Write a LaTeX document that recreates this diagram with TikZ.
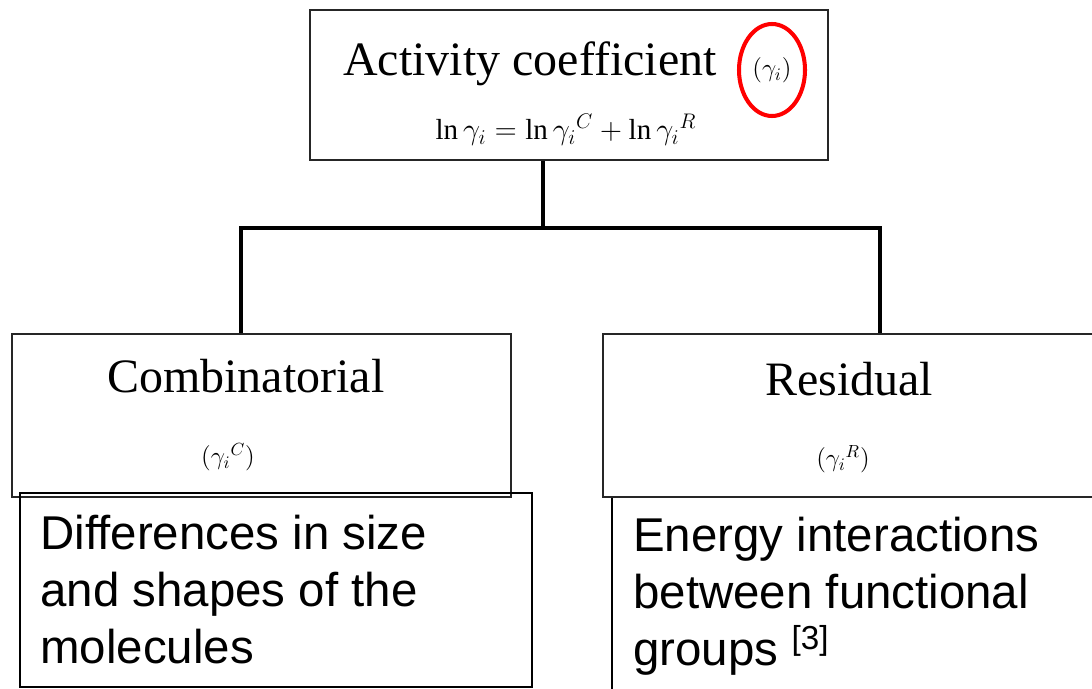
\documentclass[tikz,border=0pt]{standalone}
\usepackage{fontspec}
\setmainfont{Liberation Serif}
\newfontfamily\arialfont{Liberation Sans}
\begin{document}
\begin{tikzpicture}[x=0.02cm, y=-0.02cm,
    box/.style={draw=black!85, line width=1.1pt, inner sep=0pt},
    conn/.style={line width=2.2pt},
    title/.style={font=\fontsize{27.3}{32}\selectfont, anchor=base west, inner sep=0pt},
    gamma/.style={font=\fontsize{14}{16}\selectfont, inner sep=0pt},
    note/.style={font=\arialfont\fontsize{27}{32.4}\selectfont, align=left, anchor=base west, inner sep=0pt}]
    \useasboundingbox (0,0) rectangle (1092,689);
    \clip (0,0) rectangle (1092,689);

    % boxes
    \node[box, minimum width=10.36cm, minimum height=3cm] (act) at (569,85) {};
    \node[box, minimum width=9.98cm, minimum height=3.26cm] (comb) at (261.5,415.5) {};
    \node[box, minimum width=10.14cm, minimum height=3.26cm] (resid) at (856.5,415.5) {};
    \node[box, draw=black, minimum width=10.24cm, minimum height=3.88cm] (diff) at (276,590) {};
    \coordinate (ebot) at (612,695);
    \draw[line width=1.1pt] (resid.south -| ebot) -- (ebot);

    % texts
    \node[title] (acttxt) at (343,76) {Activity coefficient};
    \node[gamma] (actg) at (772,70) {$(\gamma_i)$};
    \draw[red, line width=2.3pt] (actg) ellipse [x radius=33, y radius=46];
    \node[gamma, anchor=base, font=\fontsize{16.5}{18}\selectfont] (formula) at (566,140) {$\ln\gamma_i = \ln{\gamma_i}^{C} + \ln{\gamma_i}^{R}$};

    \node[title] (combtxt) at (107,392) {Combinatorial};
    \node[gamma] (combg) at (228,457) {$({\gamma_i}^{C})$};
    \node[title] (residtxt) at (765,395) {Residual};
    \node[gamma] (residg) at (843,459) {$({\gamma_i}^{R})$};

    \node[note] (difftxt) at (40,663) {Differences in size\\and shapes of the\\molecules};
    \node[note] (energytxt) at (633,665) {Energy interactions\\between functional\\groups \textsuperscript{[3]}};

    % connectors
    \coordinate (split) at (543,228);
    \coordinate (jl) at (241,228);
    \coordinate (jr) at (880,228);
    \draw[conn] (act.south -| split) -- (split);
    \draw[conn] (comb.north -| jl) -- (jl) -- (jr) -- (resid.north -| jr);
\end{tikzpicture}
\end{document}
